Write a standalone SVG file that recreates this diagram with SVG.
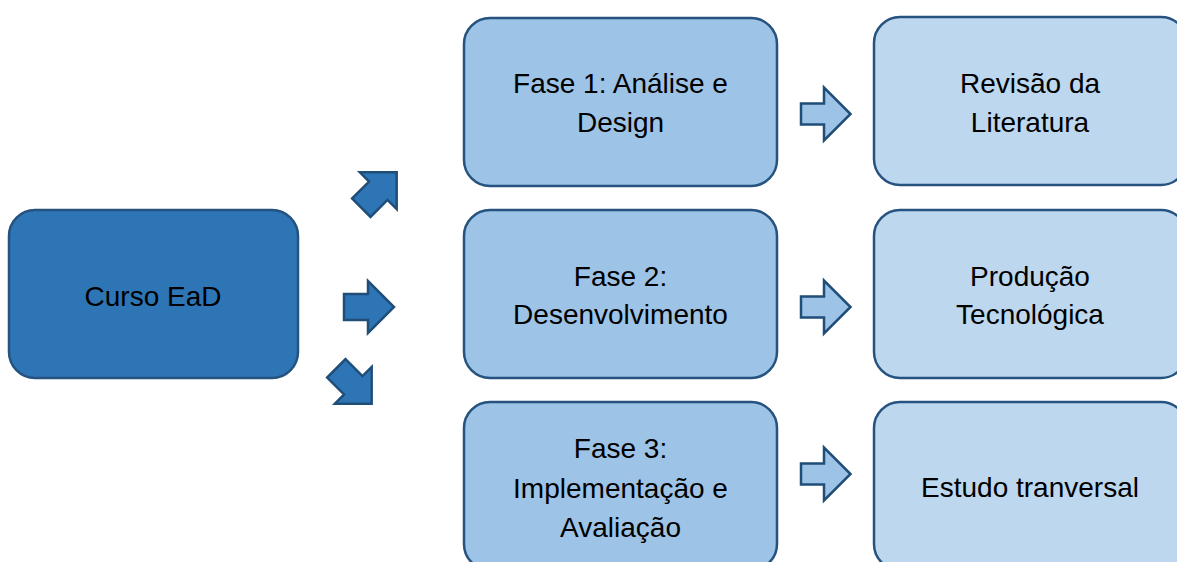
<svg xmlns="http://www.w3.org/2000/svg" width="1177" height="562" viewBox="0 0 1177 562">
  <style>
    .box { stroke: #25527F; stroke-width: 2.5; }
    .root { fill: #2E75B6; }
    .phase { fill: #9DC3E6; }
    .result { fill: #BDD7EE; }
    .label { font-family: "Liberation Sans", Arial, sans-serif; font-size: 28px; fill: #000; text-anchor: middle; }
    .big { fill: #2E75B6; stroke: #1F4E79; stroke-width: 2.5; stroke-linejoin: miter; }
    .small { fill: #9DC3E6; stroke: #1F4E79; stroke-width: 2.5; stroke-linejoin: miter; }
  </style>
  <defs>
    <!-- block arrows, drawn pointing right around the origin -->
    <path id="bigArrow" d="M-25,-13 H-1 V-26 L25,0 L-1,26 V13 H-25 Z"/>
    <path id="smallArrow" d="M-25,-10.5 H-2 V-26.5 L24.5,0 L-2,26.5 V10.5 H-25 Z"/>
  </defs>

  <rect width="1177" height="562" fill="#FFFFFF"/>

  <!-- connectors -->
  <g id="connectors">
    <use href="#bigArrow" class="big" transform="translate(379,190) rotate(-45)"/>
    <use href="#bigArrow" class="big" transform="translate(369,307)"/>
    <use href="#bigArrow" class="big" transform="translate(354,386) rotate(45)"/>
    <use href="#smallArrow" class="small" transform="translate(826,114)"/>
    <use href="#smallArrow" class="small" transform="translate(826,307)"/>
    <use href="#smallArrow" class="small" transform="translate(826,474)"/>
  </g>

  <g id="curso-ead">
    <rect class="box root" x="9" y="210" width="289" height="168" rx="26"/>
    <text class="label" x="153" y="306">Curso EaD</text>
  </g>

  <g id="fase-1">
    <rect class="box phase" x="464" y="18" width="313" height="168" rx="26"/>
    <text class="label" x="620.5" y="93">Fase 1: Análise e</text>
    <text class="label" x="620.5" y="132">Design</text>
  </g>

  <g id="fase-2">
    <rect class="box phase" x="464" y="210" width="313" height="168" rx="26"/>
    <text class="label" x="620.5" y="286">Fase 2:</text>
    <text class="label" x="620.5" y="324">Desenvolvimento</text>
  </g>

  <g id="fase-3">
    <rect class="box phase" x="464" y="402" width="313" height="168" rx="26"/>
    <text class="label" x="620.5" y="458">Fase 3:</text>
    <text class="label" x="620.5" y="498">Implementação e</text>
    <text class="label" x="620.5" y="537">Avaliação</text>
  </g>

  <g id="revisao">
    <rect class="box result" x="874" y="17" width="313" height="168" rx="26"/>
    <text class="label" x="1030" y="93">Revisão da</text>
    <text class="label" x="1030" y="132">Literatura</text>
  </g>

  <g id="producao">
    <rect class="box result" x="874" y="210" width="313" height="168" rx="26"/>
    <text class="label" x="1030" y="286">Produção</text>
    <text class="label" x="1030" y="324">Tecnológica</text>
  </g>

  <g id="estudo">
    <rect class="box result" x="874" y="402" width="313" height="168" rx="26"/>
    <text class="label" x="1030" y="497">Estudo tranversal</text>
  </g>
</svg>
